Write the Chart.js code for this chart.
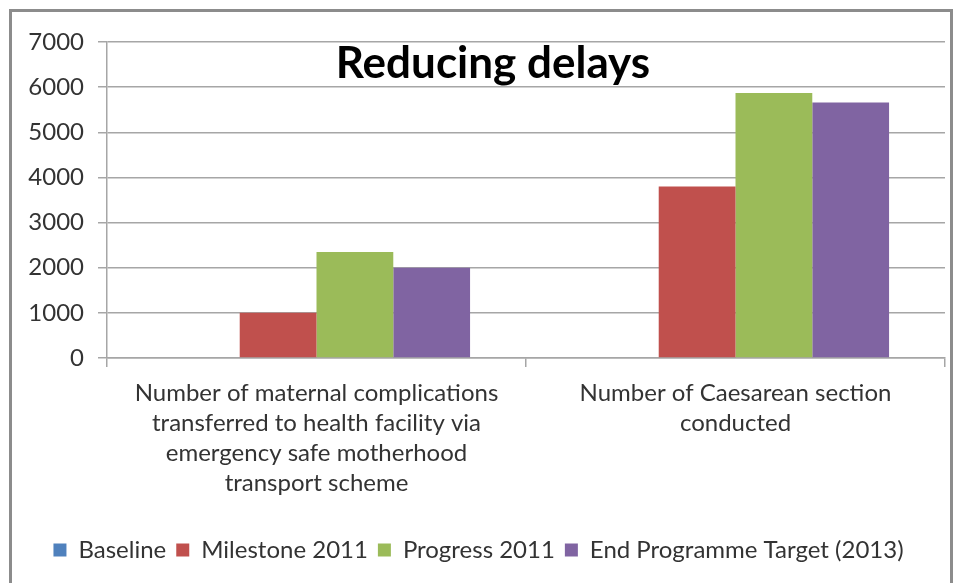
<!DOCTYPE html>
<html>
<head>
<meta charset="utf-8">
<script src="https://cdn.jsdelivr.net/npm/chart.js@4"></script>
<style>
  html, body { margin: 0; padding: 0; background: #fff; }
  #wrap { position: relative; width: 960px; height: 583px; }
  #frame { position: absolute; left: 9px; top: 9px; width: 944px; height: 580px; border: 3px solid #8c8c8c; box-sizing: border-box; pointer-events: none; }
</style>
</head>
<body>
<div id="wrap">
  <canvas id="delayChart" width="960" height="583"></canvas>
  <div id="frame"></div>
</div>
<script>
var categories = [
    ['Number of maternal complications', 'transferred to health facility via', 'emergency safe motherhood', 'transport scheme'],
    ['Number of Caesarean section', 'conducted']
];
var baseline = [0, 0];
var milestone2011 = [1000, 3800];
var progress2011 = [2350, 5870];
var endTarget2013 = [2000, 5660];
var yTicks = [0, 1000, 2000, 3000, 4000, 5000, 6000, 7000];

var seriesNames = ['Baseline', 'Milestone 2011', 'Progress 2011', 'End Programme Target (2013)'];
var seriesColors = ['#4F81BD', '#C0504D', '#9BBB59', '#8064A2'];

// title sits inside the plot area, like the original
var titlePlugin = {
    id: 'insideTitle',
    afterDraw: function (chart) {
        var ctx = chart.ctx;
        ctx.save();
        ctx.font = 'bold 44px Lato';
        ctx.fillStyle = '#000';
        ctx.textAlign = 'center';
        ctx.textBaseline = 'middle';
        ctx.fillText('Reducing delays', 493, 64);
        ctx.restore();
    }
};

var ctx = document.getElementById('delayChart').getContext('2d');
new Chart(ctx, {
    type: 'bar',
    data: {
        labels: categories,
        datasets: [baseline, milestone2011, progress2011, endTarget2013].map(function (vals, i) {
            return {
                label: seriesNames[i],
                data: vals,
                backgroundColor: seriesColors[i],
                borderWidth: 0,
                categoryPercentage: 0.733,
                barPercentage: 1.0
            };
        })
    },
    options: {
        responsive: false,
        animation: false,
        layout: { padding: { left: 12, right: 15, top: 42, bottom: 11 } },
        scales: {
            y: {
                min: 0,
                max: 7000,
                afterFit: function (scale) { scale.width = 95; },
                afterBuildTicks: function (scale) {
                    scale.ticks = yTicks.map(function (v) { return { value: v }; });
                },
                grid: { color: '#a6a6a6', lineWidth: 1.5, tickLength: 9 },
                border: { color: '#a6a6a6', width: 1.5 },
                ticks: {
                    color: '#333',
                    font: { family: 'Lato', size: 24 },
                    padding: 14,
                    callback: function (v) { return String(v); }
                }
            },
            x: {
                afterFit: function (scale) { scale.height = 170; },
                grid: { display: true, drawOnChartArea: false, offset: true, color: '#a6a6a6', lineWidth: 1.5, tickLength: 9 },
                border: { color: '#a6a6a6', width: 1.5 },
                ticks: { color: '#333', font: { family: 'Lato', size: 24, lineHeight: 1.25 }, padding: 11, maxRotation: 0, autoSkip: false }
            }
        },
        plugins: {
            legend: {
                position: 'bottom',
                labels: {
                    color: '#333',
                    font: { family: 'Lato', size: 24 },
                    boxWidth: 13,
                    boxHeight: 13,
                    padding: 10
                }
            },
            tooltip: { enabled: false }
        }
    },
    plugins: [titlePlugin]
});
</script>
</body>
</html>
